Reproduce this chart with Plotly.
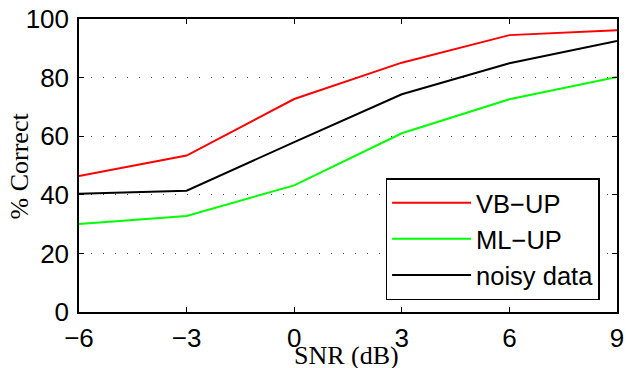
import plotly.graph_objects as go

snr = [-6, -3, 0, 3, 6, 9]
vb_up = [46.4, 53.4, 72.7, 85.1, 94.5, 96.2]
ml_up = [30.0, 32.8, 43.2, 61.0, 72.6, 80.2]
noisy = [40.4, 41.4, 58.0, 74.3, 84.9, 92.5]

x_ticks = [-6, -3, 0, 3, 6, 9]
x_ticklabels = ["\u22126", "\u22123", "0", "3", "6", "9"]
y_ticks = [0, 20, 40, 60, 80, 100]

fig = go.Figure()
fig.add_trace(go.Scatter(x=snr, y=vb_up, mode="lines", name="VB\u2212UP",
                         line=dict(color="#FF0000", width=2)))
fig.add_trace(go.Scatter(x=snr, y=ml_up, mode="lines", name="ML\u2212UP",
                         line=dict(color="#00FF00", width=2)))
fig.add_trace(go.Scatter(x=snr, y=noisy, mode="lines", name="noisy data",
                         line=dict(color="#000000", width=2)))

axis_font = dict(family="Liberation Sans, Arial, sans-serif", size=26, color="black")

fig.update_layout(
    width=626, height=368,
    margin=dict(l=79, r=9, t=19, b=56),
    paper_bgcolor="white", plot_bgcolor="white",
    showlegend=True,
    legend=dict(x=0.968, xanchor="right", y=0.040, yanchor="bottom",
                bordercolor="black", borderwidth=1.3, bgcolor="white",
                font=dict(family="Liberation Sans, Arial, sans-serif", size=25.5, color="black"),
                itemwidth=79, tracegroupgap=0),
    xaxis=dict(range=[-6, 9], tickvals=x_ticks, ticktext=x_ticklabels,
               showgrid=False, zeroline=False, showline=True, linecolor="black",
               linewidth=1.5, mirror="ticks", ticks="inside", ticklen=5,
               tickcolor="black", tickfont=axis_font, ticklabelstandoff=2,
               ticklabeloverflow="allow", automargin=False),
    yaxis=dict(range=[0, 100], tickvals=y_ticks,
               showgrid=True, gridcolor="#444444", griddash="1px,11px", gridwidth=1,
               zeroline=False, showline=True, linecolor="black",
               linewidth=1.5, mirror="ticks", ticks="inside", ticklen=5,
               tickcolor="black", tickfont=axis_font, ticklabelstandoff=3,
               ticklabeloverflow="allow", automargin=False),
    annotations=[
        dict(text="SNR (dB)", xref="paper", yref="paper", x=0.497, y=-0.150,
             xanchor="center", yanchor="middle", showarrow=False,
             font=dict(family="Liberation Serif, Times New Roman, serif", size=26, color="black")),
        dict(text="% Correct", xref="paper", yref="paper", x=-0.1097, y=0.5,
             xanchor="center", yanchor="middle", showarrow=False, textangle=-90,
             font=dict(family="Liberation Serif, Times New Roman, serif", size=26, color="black")),
    ],
)

fig.write_html("out.html", config={"displayModeBar": False},
               post_script="document.body.style.margin='0';document.body.style.overflow='hidden';")
